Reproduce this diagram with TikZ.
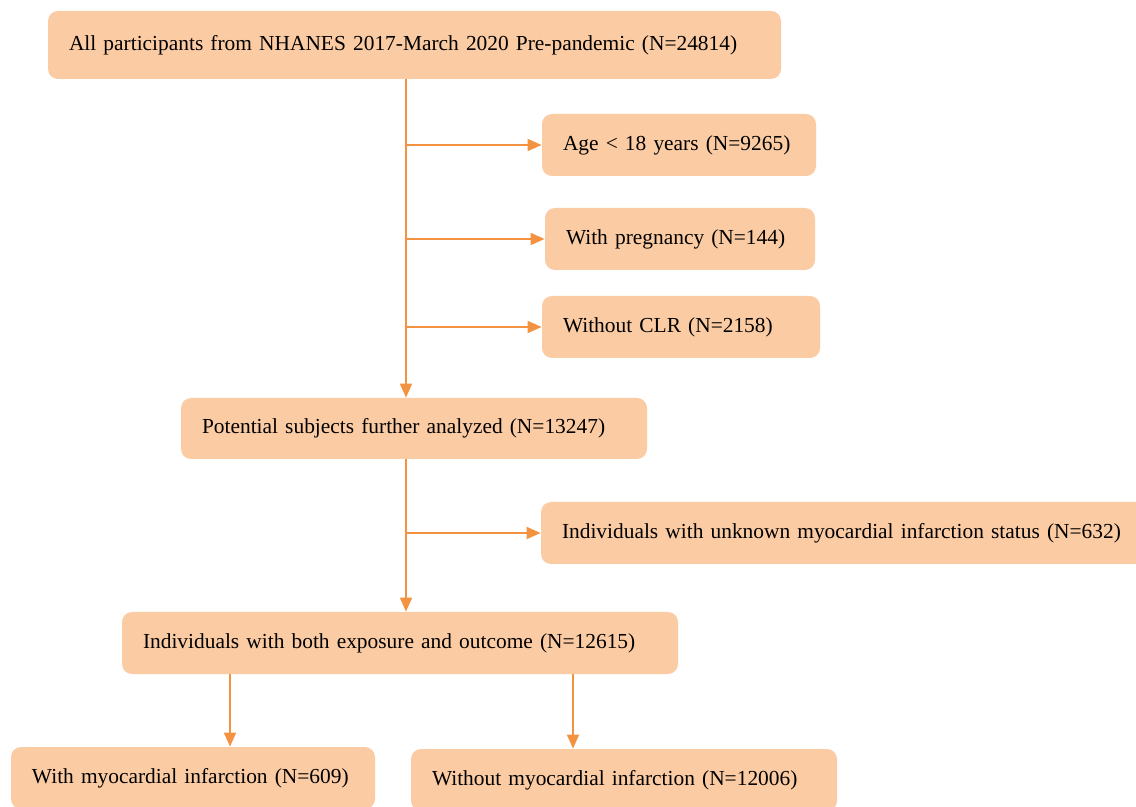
\documentclass[tikz,border=0pt]{standalone}
\usepackage{fontspec}
\setmainfont{Liberation Serif}
\usetikzlibrary{positioning}
\usetikzlibrary{arrows.meta}
\definecolor{boxfill}{HTML}{FBCBA3}
\definecolor{flowline}{HTML}{F39240}
\tikzset{
    stage/.style={fill=boxfill, rounded corners=5pt, inner xsep=10.5pt, inner ysep=0pt,
        align=left, font=\fontsize{10.7}{13}\selectfont},
    flow/.style={draw=flowline, line width=0.9pt, -{Triangle[length=7pt,width=6pt]}}
}
\begin{document}
\begin{tikzpicture}[x=0.5pt, y=-0.5pt]
    \useasboundingbox (0,0) rectangle (1136,807);
    % boxes
    \node[stage, text width=345.5pt, minimum height=34pt] (all) at (414.5,45) {All participants from NHANES 2017-March 2020 Pre-pandemic (N=24814)};
    \node[stage, text width=116pt, minimum height=31pt] (age) at (679,145) {Age < 18 years (N=9265)};
    \node[stage, text width=114pt, minimum height=31pt] (preg) at (680,239) {With pregnancy (N=144)};
    \node[stage, text width=118pt, minimum height=31pt] (clr) at (681,327) {Without CLR (N=2158)};
    \node[stage, text width=212pt, minimum height=30.5pt] (pot) at (414,428.5) {Potential subjects further analyzed (N=13247)};
    \node[stage, text width=290pt, minimum height=31pt] (unk) at (852,533) {Individuals with unknown myocardial infarction status (N=632)};
    \node[stage, text width=257pt, minimum height=31pt] (both) at (400,643) {Individuals with both exposure and outcome (N=12615)};
    \node[stage, text width=161pt, minimum height=31pt] (withmi) at (193,778) {With myocardial infarction (N=609)};
    \node[stage, text width=192pt, minimum height=31pt] (womi) at (624,780) {Without myocardial infarction (N=12006)};
    % connectors
    \coordinate (xa) at (406,0);
    \coordinate (xb) at (230,0);
    \coordinate (xc) at (573,0);
    \draw[flow] (all.south -| xa) -- (pot.north -| xa);
    \draw[flow] (age.west -| xa) -- (age.west);
    \draw[flow] (preg.west -| xa) -- (preg.west);
    \draw[flow] (clr.west -| xa) -- (clr.west);
    \draw[flow] (pot.south -| xa) -- (both.north -| xa);
    \draw[flow] (unk.west -| xa) -- (unk.west);
    \draw[flow] (both.south -| xb) -- (withmi.north -| xb);
    \draw[flow] (both.south -| xc) -- (womi.north -| xc);
\end{tikzpicture}
\end{document}
